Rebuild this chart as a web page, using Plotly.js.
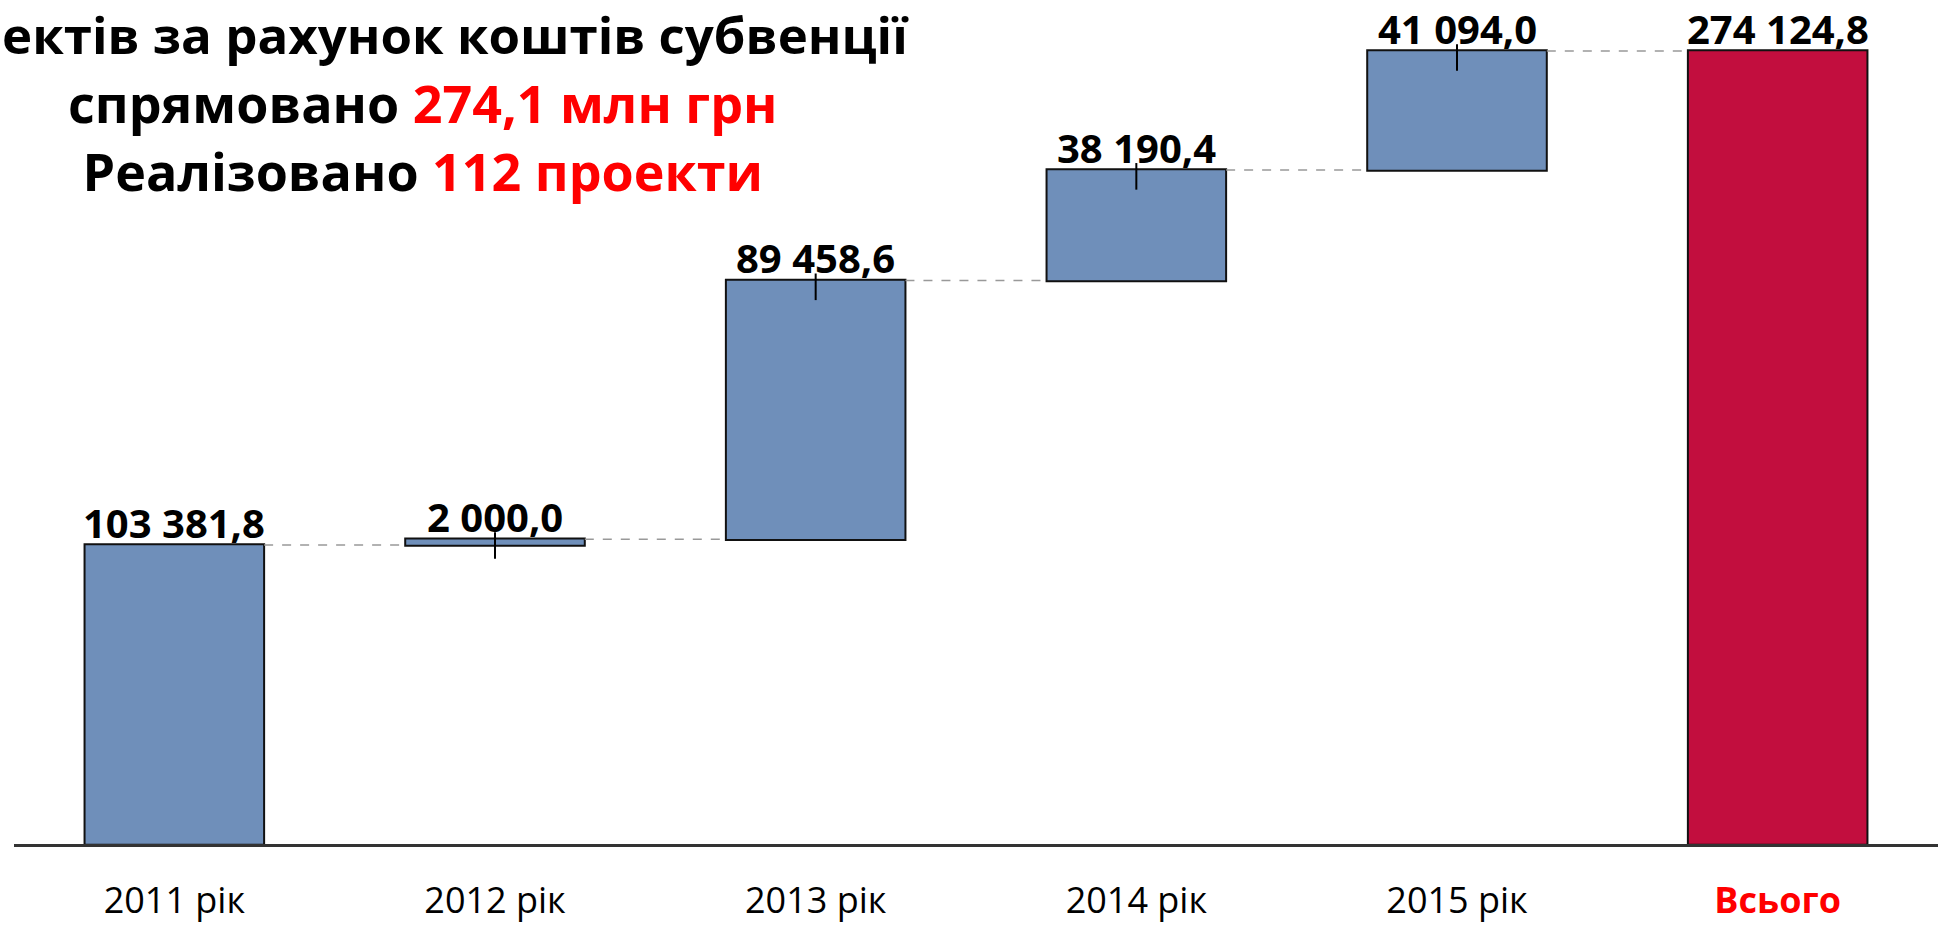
<!DOCTYPE html>
<html>
<head>
<meta charset="utf-8">
<script src="https://cdn.plot.ly/plotly-3.0.1.min.js"></script>
<style>html,body{margin:0;padding:0;background:#fff;overflow:hidden}#chart{width:1941px;height:928px}</style>
</head>
<body>
<div id="chart"></div>
<script>
var categories = ['2011 рік', '2012 рік', '2013 рік', '2014 рік', '2015 рік', 'Всього'];
var values = [103381.8, 2000.0, 89458.6, 38190.4, 41094.0, 274124.8];
var measures = ['relative', 'relative', 'relative', 'relative', 'relative', 'total'];
var titleLine1 = 'ектів за рахунок коштів субвенції';
var titleLine2a = 'спрямовано ', titleLine2b = '274,1 млн грн';
var titleLine3a = 'Реалізовано ', titleLine3b = '112 проекти';

function fmt(v) {
  var s = v.toFixed(1).split('.');
  var intPart = s[0].replace(/\B(?=(\d{3})+(?!\d))/g, ' ');
  return intPart + ',' + s[1];
}
var labels = values.map(fmt);

// cumulative tops (end value of each bar)
var cum = [], run = 0;
values.forEach(function (v, i) { if (measures[i] === 'relative') { run += v; cum.push(run); } else { cum.push(run); } });
var tickX = categories.slice(1, 5);
var tickY = cum.slice(1, 5);

var tickTextArr = categories.map(function (c, i) {
  return i === categories.length - 1 ? '<b><span style="color:#FF0000">' + c + '</span></b>' : c;
});

var data = [{
  type: 'waterfall',
  x: categories,
  y: values,
  measure: measures,
  textinfo: 'none',
  increasing: {marker: {color: '#6F8FBA', line: {color: '#111', width: 2}}},
  totals: {marker: {color: '#C20E3E', line: {color: '#111', width: 2}}},
  connector: {mode: 'between', line: {color: '#999', width: 1.5, dash: 'dash'}},
  hoverinfo: 'none'
}, {
  type: 'scatter',
  mode: 'markers',
  x: tickX,
  y: tickY,
  marker: {size: 1, color: 'rgba(0,0,0,0)'},
  error_y: {type: 'data', symmetric: false, array: [2400, 2400, 2400, 2400], arrayminus: [6800, 6800, 6800, 6800], color: '#000', thickness: 2, width: 0},
  cliponaxis: false,
  hoverinfo: 'none',
  showlegend: false
}];

var plotW = 1941 - 14 - 3;
function px(xpix) { return (xpix - 14) / plotW; }

var annotations = [
  {xref: 'paper', yref: 'paper', x: px(1), y: 1 - 34 / 844, xanchor: 'left', yanchor: 'middle', showarrow: false, borderpad: 0,
   text: '<b>' + titleLine1 + '</b>', font: {family: 'Open Sans', size: 51, color: '#000', weight: 'bold'}},
  {xref: 'paper', yref: 'paper', x: px(423), y: 1 - 136 / 844, xanchor: 'center', yanchor: 'middle', showarrow: false, borderpad: 0, align: 'center',
   text: '<b>' + titleLine2a + '<span style="color:#FF0000">' + titleLine2b + '</span></b><br><b>' +
         titleLine3a + '<span style="color:#FF0000">' + titleLine3b + '</span></b>',
   font: {family: 'Open Sans', size: 52, color: '#000', weight: 'bold'}}
];
categories.forEach(function (c, i) {
  annotations.push({
    xref: 'x', yref: 'y', x: c, y: cum[i], xanchor: 'center', yanchor: 'bottom', yshift: -6, borderpad: 0,
    showarrow: false, text: '<b>' + labels[i] + '</b>',
    font: {family: 'Open Sans', size: 40, color: '#000', weight: 'bold'}
  });
});

var layout = {
  width: 1941, height: 928,
  margin: {l: 14, r: 3, t: 0, b: 84},
  paper_bgcolor: '#fff', plot_bgcolor: '#fff',
  showlegend: false,
  waterfallgap: 0.44,
  xaxis: {
    type: 'category', range: [-0.5, 5.5],
    tickvals: categories, ticktext: tickTextArr,
    showline: true, linecolor: '#333', linewidth: 3,
    showgrid: false, zeroline: false, ticks: '',
    ticklabelstandoff: 23,
    tickfont: {family: 'Open Sans', size: 36, color: '#000'},
    fixedrange: true
  },
  yaxis: {range: [0, 291800], visible: false, fixedrange: true},
  annotations: annotations
};
Plotly.newPlot('chart', data, layout, {displayModeBar: false, staticPlot: true});
</script>
</body>
</html>
